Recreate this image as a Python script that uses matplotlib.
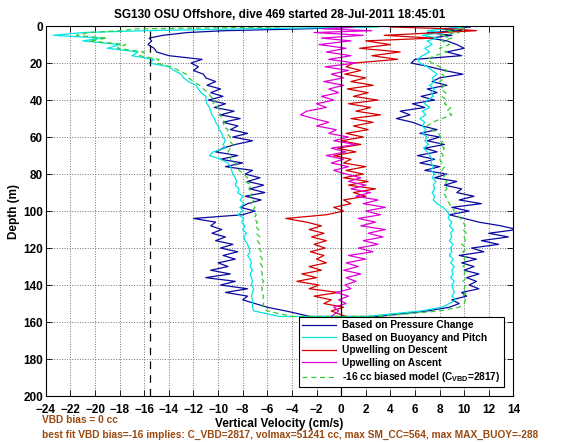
import matplotlib
matplotlib.use("Agg")
import matplotlib.pyplot as plt

plt.rcParams['font.family'] = ['Liberation Sans', 'DejaVu Sans']
plt.rcParams['font.weight'] = 'bold'
plt.rcParams['mathtext.fontset'] = 'custom'
plt.rcParams['mathtext.rm'] = 'Liberation Sans:bold'
plt.rcParams['mathtext.bf'] = 'Liberation Sans:bold'

# depth grid (m) shared by all profiles
depth = [0.5, 1.5, 2.5, 3.5, 5, 6.5, 8, 10, 12, 14, 16, 18, 20, 22, 24, 26, 28, 30,
         32, 34, 36, 38, 40, 42, 44, 46, 48, 50, 52, 54, 56, 58, 60, 62, 64, 66,
         68, 70, 72, 74, 76, 78, 80, 82, 84, 86, 88, 90, 92, 94, 96, 98, 100, 102,
         104, 106, 108, 110, 112, 114, 116, 118, 120, 122, 124, 126, 128, 130, 132,
         134, 136, 138, 140, 142, 144, 146, 148, 150, 152, 154, 157]

# pressure change, descent / ascent (cm/s)
press_dn = [2.0, -3.0, -9.5, -12.5, -14.5, -15.6, -15.4, -15.7, -15.2, -15.0, -14.0, -11.3,
            -12.2, -11.6, -12.0, -11.2, -11.0, -10.2, -10.9, -9.8, -10.6, -9.6, -10.8, -9.4,
            -10.3, -8.7, -9.8, -8.2, -9.6, -8.4, -9.0, -7.6, -8.8, -7.2, -8.6, -9.6, -10.2,
            -8.4, -9.8, -8.0, -9.4, -7.2, -7.8, -6.6, -7.6, -6.3, -7.4, -6.2, -7.8, -6.5,
            -7.6, -8.2, -7.0, -8.0, -12.0, -10.2, -10.6, -9.7, -10.5, -9.4, -10.2, -8.8,
            -9.8, -8.4, -9.6, -8.6, -10.0, -9.2, -10.6, -9.0, -11.0, -8.6, -9.8, -7.6, -9.4,
            -7.6, -8.0, -7.0, -6.0, -4.5, -2.5]
press_up = [10.5, 8.0, 9.8, 7.0, 9.0, 7.2, 8.6, 9.4, 10.0, 8.6, 9.8, 6.0, 5.7, 7.2, 8.4,
            9.9, 8.0, 7.4, 8.6, 7.0, 7.8, 6.5, 7.6, 5.8, 6.8, 4.8, 5.6, 4.5, 5.8, 6.6, 7.8,
            6.4, 8.0, 7.0, 8.4, 6.8, 7.8, 6.2, 7.6, 6.4, 8.0, 6.8, 8.6, 7.6, 9.4, 8.4, 9.8,
            9.4, 10.8, 9.6, 11.4, 9.0, 10.4, 8.8, 10.0, 11.2, 13.0, 14.3, 12.0, 13.6, 11.4,
            12.8, 10.6, 11.6, 9.6, 11.0, 9.8, 10.8, 10.0, 11.2, 10.2, 11.0, 10.4, 11.2, 9.8,
            10.2, 9.0, 9.6, 8.8, 7.0, 3.0]

# buoyancy and pitch, descent / ascent
buoy_dn = [3.0, -8.0, -16.0, -21.0, -23.4, -19.5, -21.0, -18.0, -19.0, -16.5, -17.0, -15.2,
           -15.6, -14.0, -13.6, -13.0, -12.8, -12.4, -11.8, -11.6, -11.4, -11.0, -11.0, -10.9,
           -10.7, -10.6, -10.5, -10.3, -10.2, -10.0, -9.9, -9.7, -9.6, -9.4, -9.6, -9.4,
           -10.4, -10.7, -9.8, -9.2, -9.0, -8.9, -8.8, -8.6, -8.5, -8.6, -8.3, -8.4, -8.0,
           -8.2, -7.9, -8.2, -8.0, -8.4, -7.9, -8.1, -7.8, -8.0, -7.7, -7.9, -7.8, -7.6,
           -7.5, -7.4, -7.6, -7.4, -7.3, -7.4, -7.2, -7.4, -7.3, -7.2, -7.3, -7.1, -7.2,
           -7.3, -7.2, -7.2, -7.2, -7.1, -5.0]
buoy_up = [10.0, 8.4, 7.0, 8.2, 6.6, 7.8, 7.0, 7.4, 6.8, 7.2, 6.6, 6.2, 6.4, 7.0, 7.4, 7.8,
           7.4, 7.6, 7.2, 7.6, 7.3, 7.5, 7.0, 6.8, 7.2, 6.6, 6.9, 6.4, 6.8, 6.6, 6.9, 6.6,
           7.0, 6.8, 7.1, 6.7, 7.0, 7.2, 7.4, 7.3, 7.5, 7.3, 7.6, 7.4, 7.7, 7.5, 7.6, 7.4,
           7.6, 7.5, 7.8, 8.3, 8.6, 8.8, 8.7, 9.0, 8.8, 9.1, 8.9, 9.0, 8.8, 9.1, 8.9, 9.0,
           8.8, 9.1, 8.9, 9.2, 9.0, 9.1, 8.9, 9.2, 9.0, 9.1, 9.2, 9.0, 9.3, 8.8, 8.2, 6.5,
           2.0]

# -16 cc biased model, descent / ascent
model_dn = [-5.0, -16.5, -18.0, -20.5, -21.5, -19.0, -20.5, -17.5, -18.2, -16.0, -16.4, -14.8,
            -15.0, -13.8, -13.2, -12.6, -12.4, -12.0, -11.5, -11.2, -10.8, -10.6, -10.2,
            -10.4, -10.0, -9.8, -9.9, -9.6, -9.5, -9.6, -9.2, -9.3, -9.0, -9.1, -8.8, -9.0,
            -9.2, -8.9, -9.0, -8.6, -8.5, -8.3, -7.9, -7.6, -7.8, -7.3, -7.5, -7.2, -7.4,
            -7.1, -7.3, -7.0, -7.2, -6.9, -7.1, -6.8, -7.0, -6.7, -6.9, -6.6, -6.8, -6.6,
            -6.7, -6.5, -6.6, -6.4, -6.6, -6.4, -6.5, -6.4, -6.5, -6.3, -6.5, -6.4, -6.5,
            -6.3, -6.4, -6.3, -6.4, -6.0, -4.0]
model_up = [9.5, 10.0, 8.4, 9.6, 8.0, 9.0, 8.2, 8.8, 8.0, 8.6, 7.6, 7.0, 7.4, 8.0, 8.6, 8.2,
            8.5, 8.0, 8.4, 8.1, 8.5, 8.2, 8.6, 8.4, 8.9, 8.6, 9.0, 8.2, 7.4, 7.0, 7.4, 7.9,
            8.1, 8.3, 8.0, 8.4, 8.1, 8.3, 8.0, 8.2, 8.4, 8.2, 8.5, 8.3, 8.6, 8.4, 8.6, 8.3,
            8.5, 8.6, 8.8, 9.0, 9.2, 9.4, 9.7, 9.9, 10.1, 9.9, 10.2, 10.0, 10.1, 9.8, 10.2,
            9.9, 10.1, 10.0, 10.2, 9.9, 10.1, 10.0, 10.2, 9.9, 10.1, 10.0, 10.2, 9.9, 10.1,
            10.0, 9.6, 8.0, 3.0]

# upwelling estimates
upw_descent = [4.0, 9.0, 11.0, 8.0, 3.5, 7.5, 2.0, 4.0, 1.5, 4.8, 2.5, 4.6, 1.0, 0.4, 1.6,
               0.3, 2.0, 0.8, 2.6, 0.5, 2.2, 1.0, 3.0, 0.6, 2.4, 1.2, 3.2, 0.8, 2.6, 1.0,
               2.2, 0.4, 1.8, 0.0, 1.6, -0.3, 1.2, -0.6, 0.8, 0.2, 2.0, 0.4, 1.8, 0.2, 2.2,
               0.6, 2.8, 1.0, 2.0, 0.2, 0.8, -0.6, 0.2, -1.2, -4.5, -2.8, -1.6, -2.6, -1.4,
               -2.4, -1.2, -2.2, -1.3, -2.5, -1.4, -2.0, -1.2, -2.6, -1.6, -3.2, -2.0, -3.6,
               -1.8, -2.6, -0.2, -2.2, -0.8, -1.4, 0.2, -0.8, 0.4]
upw_ascent = [1.0, -1.5, 2.5, -2.2, 1.8, -1.6, 0.8, -1.8, 0.4, -1.2, 0.8, -1.0, 1.2, -1.3,
              0.6, -0.8, 0.2, -1.4, 0.2, -1.0, -0.2, -1.6, -0.6, -2.0, -1.2, -2.8, -3.3,
              -2.2, -1.0, -2.0, -0.4, -1.0, 0.6, -0.6, 1.2, -0.8, 0.4, -1.2, 0.2, -0.8, 0.6,
              -0.6, 0.4, 1.6, 0.6, 2.0, 0.8, 2.4, 1.2, 3.0, 1.8, 3.6, 2.0, 3.2, 1.4, 2.8,
              1.6, 3.6, 2.2, 3.4, 1.8, 3.0, 1.4, 2.6, 0.6, 2.0, 0.4, 1.4, 0.2, 1.6, 0.4, 1.2,
              0.3, 0.8, -0.4, 0.6, -0.2, 0.4, -0.6, -0.2, -0.8]

vbd_line = -15.5
xticks = list(range(-24, 15, 2))
yticks = list(range(0, 201, 20))

fig = plt.figure(figsize=(5.66, 4.42), dpi=100)
ax = fig.add_axes([0.081, 0.104, 0.826, 0.837])

# descent then ascent as one loop
d_loop = depth + depth[::-1]
ax.plot(press_dn + press_up[::-1], d_loop, color='#0a0aa0', lw=0.9,
        label='Based on Pressure Change')
ax.plot(buoy_dn + buoy_up[::-1], d_loop, color='#00e5e5', lw=0.9,
        label='Based on Buoyancy and Pitch')
ax.plot(upw_descent, depth, color='#d40000', lw=0.9, label='Upwelling on Descent')
ax.plot(upw_ascent, depth, color='#e000d8', lw=0.9, label='Upwelling on Ascent')
ax.plot(model_dn + model_up[::-1], d_loop, color='#33cc33', lw=0.9, ls=(0, (4, 3)),
        label=r'-16 cc biased model (C$_{\mathrm{VBD}}$=2817)')

ax.axvline(0, color='black', lw=0.9)
ax.axvline(vbd_line, color='black', lw=0.9, ls=(0, (6, 5)))

ax.set_xlim(-24, 14)
ax.set_ylim(200, 0)
ax.set_xticks(xticks)
ax.set_yticks(yticks)
ax.tick_params(direction='in', top=True, right=True, length=4, width=0.6,
               labelsize=8.5, pad=2)
ax.tick_params(axis='x', pad=6)
for lab in ax.get_xticklabels() + ax.get_yticklabels():
    lab.set_fontweight('bold')
ax.grid(True, color='0.45', linestyle=':', lw=0.7)
for s in ax.spines.values():
    s.set_linewidth(0.8)

ax.set_title('SG130 OSU Offshore, dive 469 started 28-Jul-2011 18:45:01',
             fontsize=8.5, fontweight='bold', pad=6)
ax.set_xlabel('Vertical Velocity (cm/s)', fontsize=8.5, fontweight='bold', labelpad=1)
ax.set_ylabel('Depth (m)', fontsize=8.5, fontweight='bold', labelpad=2)

leg = ax.legend(loc='lower right', bbox_to_anchor=(0.99, 0.01), fontsize=7.3,
                handlelength=3.4, fancybox=False, framealpha=1, edgecolor='black',
                borderpad=0.3, labelspacing=0.25, handletextpad=0.6)
leg.get_frame().set_linewidth(0.8)

brown = '#99490f'
fig.text(0.074, 0.042, 'VBD bias = 0 cc', color=brown, fontsize=7.3, fontweight='bold')
fig.text(0.074, 0.010, 'best fit VBD bias=-16 implies: C_VBD=2817, volmax=51241 cc, '
         'max SM_CC=564, max MAX_BUOY=-288', color=brown, fontsize=7.3, fontweight='bold')

fig.savefig('out.png', dpi=100)
